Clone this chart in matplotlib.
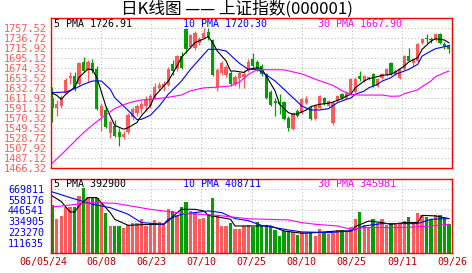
import numpy as np
import matplotlib.pyplot as plt
from matplotlib.transforms import ScaledTranslation

plt.rcParams['font.family'] = ['Noto Sans CJK SC', 'DejaVu Sans']

# ---- data ----
date_labels = ['06/05/24', '06/08', '06/23', '07/10', '07/25', '08/10', '08/25', '09/11', '09/26']

opens = [1611.9, 1591.1, 1595.3, 1622.3, 1653.5, 1657.7, 1641.0, 1686.8, 1670.2, 1684.7,
         1672.2, 1574.5, 1587.0, 1539.1, 1553.7, 1541.2, 1530.8, 1541.2, 1572.4, 1580.7,
         1589.0, 1595.3, 1595.3, 1611.9, 1632.7, 1634.8, 1639.0, 1682.6, 1672.2, 1699.3,
         1755.4, 1718.0, 1715.9, 1726.3, 1736.7, 1749.2, 1732.6, 1634.8, 1663.9, 1659.8,
         1663.9, 1641.0, 1653.5, 1655.6, 1668.1, 1693.0, 1686.8, 1678.5, 1661.8, 1624.4,
         1605.7, 1603.6, 1603.6, 1570.3, 1547.4, 1584.9, 1580.7, 1601.5, 1591.1, 1568.2,
         1591.1, 1611.9, 1595.3, 1559.9, 1605.7, 1620.2, 1611.9, 1620.2, 1624.4, 1657.7,
         1647.3, 1651.4, 1661.8, 1636.9, 1653.5, 1659.8, 1684.7, 1661.8, 1653.5, 1672.2,
         1699.3, 1684.7, 1688.9, 1726.3, 1736.7, 1734.6, 1732.6, 1745.0, 1724.2, 1722.2]
closes = [1591.1, 1599.4, 1614.0, 1649.4, 1657.7, 1632.7, 1684.7, 1668.1, 1686.8, 1668.1,
          1589.0, 1595.3, 1551.6, 1562.0, 1532.9, 1530.8, 1537.0, 1576.6, 1589.0, 1595.3,
          1599.4, 1607.8, 1616.1, 1634.8, 1639.0, 1641.0, 1672.2, 1668.1, 1699.3, 1674.3,
          1713.8, 1743.0, 1747.1, 1734.6, 1747.1, 1738.8, 1659.8, 1670.2, 1684.7, 1676.4,
          1641.0, 1655.6, 1663.9, 1661.8, 1686.8, 1678.5, 1672.2, 1661.8, 1611.9, 1597.4,
          1601.5, 1599.4, 1568.2, 1549.5, 1580.7, 1574.5, 1609.8, 1609.8, 1568.2, 1595.3,
          1616.1, 1599.4, 1605.7, 1601.5, 1616.1, 1611.9, 1622.3, 1651.4, 1651.4, 1651.4,
          1657.7, 1655.6, 1636.9, 1651.4, 1661.8, 1672.2, 1661.8, 1668.1, 1672.2, 1699.3,
          1688.9, 1693.0, 1724.2, 1734.6, 1734.6, 1732.6, 1745.0, 1726.3, 1720.1, 1713.8]
highs = [1634.8, 1607.8, 1618.2, 1653.5, 1666.0, 1666.0, 1686.8, 1697.2, 1691.0, 1693.0,
         1678.5, 1601.5, 1593.2, 1566.2, 1566.2, 1549.5, 1543.3, 1580.7, 1593.2, 1599.4,
         1605.7, 1616.1, 1620.2, 1643.1, 1645.2, 1647.3, 1676.4, 1691.0, 1701.4, 1707.6,
         1757.5, 1745.0, 1751.3, 1738.8, 1757.5, 1757.5, 1734.6, 1674.3, 1688.9, 1680.6,
         1668.1, 1659.8, 1666.0, 1670.2, 1693.0, 1705.5, 1691.0, 1682.6, 1663.9, 1628.6,
         1611.9, 1620.2, 1605.7, 1574.5, 1582.8, 1589.0, 1611.9, 1616.1, 1595.3, 1599.4,
         1618.2, 1614.0, 1607.8, 1605.7, 1618.2, 1622.3, 1624.4, 1653.5, 1655.6, 1668.1,
         1659.8, 1657.7, 1663.9, 1653.5, 1663.9, 1674.3, 1686.8, 1670.2, 1674.3, 1701.4,
         1715.9, 1695.1, 1726.3, 1736.7, 1745.0, 1738.8, 1747.1, 1747.1, 1728.4, 1724.2]
lows = [1562.0, 1574.5, 1591.1, 1620.2, 1641.0, 1626.5, 1639.0, 1666.0, 1645.2, 1663.9,
        1587.0, 1543.3, 1549.5, 1528.7, 1530.8, 1512.1, 1526.6, 1537.0, 1566.2, 1574.5,
        1580.7, 1584.9, 1591.1, 1609.8, 1628.6, 1626.5, 1636.9, 1659.8, 1668.1, 1672.2,
        1705.5, 1715.9, 1711.8, 1722.2, 1734.6, 1732.6, 1657.7, 1626.5, 1659.8, 1655.6,
        1636.9, 1636.9, 1632.7, 1632.7, 1666.0, 1672.2, 1668.1, 1657.7, 1609.8, 1595.3,
        1574.5, 1578.6, 1566.2, 1543.3, 1545.4, 1572.4, 1578.6, 1599.4, 1566.2, 1566.2,
        1589.0, 1597.4, 1593.2, 1555.8, 1603.6, 1609.8, 1609.8, 1618.2, 1622.3, 1647.3,
        1645.2, 1649.4, 1634.8, 1634.8, 1651.4, 1657.7, 1659.8, 1659.8, 1651.4, 1670.2,
        1688.9, 1678.5, 1686.8, 1724.2, 1726.3, 1726.3, 1730.5, 1724.2, 1713.8, 1705.5]
volumes = [500000, 360000, 390000, 478000, 480000, 486000, 598000, 684000, 590000, 578000,
           575000, 528000, 424000, 285000, 285000, 285000, 268000, 292000, 313000, 313000,
           362000, 285000, 320000, 348000, 327000, 320000, 466000, 442000, 400000, 483000,
           536000, 442000, 431000, 362000, 372000, 410000, 577000, 396000, 285000, 285000,
           320000, 257000, 250000, 285000, 292000, 278000, 327000, 292000, 292000, 285000,
           243000, 181000, 233000, 222000, 222000, 188000, 222000, 215000, 222000, 181000,
           257000, 215000, 198000, 215000, 243000, 243000, 233000, 278000, 355000, 431000,
           292000, 278000, 362000, 320000, 355000, 292000, 320000, 306000, 320000, 341000,
           383000, 320000, 424000, 396000, 383000, 355000, 396000, 396000, 362000, 303000]

# moving average lines (day index, value)
pma5_idx = [0, 1, 2, 3, 5, 6, 8, 9, 10, 11, 12, 13, 14, 16, 17, 19, 20, 22, 23, 26, 28, 29, 31,
            32, 34, 35, 36, 37, 39, 40, 41, 43, 44, 46, 47, 48, 50, 51, 53, 54, 55, 57, 58, 60,
            62, 63, 65, 66, 67, 68, 70, 71, 73, 74, 76, 77, 79, 80, 82, 83, 85, 86, 88, 89]
pma5 = [1621.7, 1617.5, 1609.0, 1619.6, 1634.0, 1655.0, 1672.0, 1671.0, 1654.0, 1625.0, 1595.0,
        1574.5, 1555.0, 1547.0, 1550.0, 1561.0, 1575.0, 1596.0, 1616.0, 1647.0, 1678.5, 1697.0,
        1716.6, 1727.0, 1735.0, 1739.5, 1727.0, 1710.0, 1689.0, 1668.0, 1668.0, 1665.0, 1671.5,
        1675.0, 1673.0, 1657.7, 1626.5, 1598.8, 1581.4, 1578.0, 1579.0, 1587.0, 1594.0, 1598.8,
        1601.0, 1603.6, 1610.6, 1616.0, 1619.6, 1633.4, 1647.3, 1652.0, 1656.3, 1659.0, 1661.0,
        1666.0, 1678.5, 1686.8, 1695.8, 1713.2, 1730.5, 1735.3, 1732.5, 1726.9]
pma10_idx = [0, 3, 5, 7, 9, 11, 13, 14, 17, 19, 20, 22, 24, 26, 29, 31, 33, 35, 37, 39, 41, 42,
             44, 46, 47, 50, 52, 54, 56, 58, 60, 62, 64, 66, 67, 68, 70, 71, 73, 74, 76, 77, 79,
             80, 82, 83, 85, 86, 88, 89]
pma10 = [1623.0, 1624.4, 1631.3, 1640.4, 1647.3, 1647.3, 1630.0, 1612.6, 1586.0, 1567.0, 1567.6,
         1576.0, 1595.3, 1619.6, 1647.3, 1671.5, 1692.3, 1713.2, 1713.2, 1709.7, 1692.3, 1684.0,
         1671.5, 1671.5, 1666.0, 1647.3, 1630.0, 1612.6, 1595.3, 1587.0, 1587.0, 1589.8, 1602.2,
         1609.2, 1612.0, 1619.6, 1626.5, 1633.0, 1640.4, 1647.0, 1654.2, 1661.0, 1668.1, 1671.5,
         1682.0, 1699.3, 1709.7, 1714.5, 1718.7, 1720.3]
pma30_idx = [0, 3, 6, 8, 10, 12, 14, 16, 18, 20, 22, 26, 29, 31, 34, 37, 40, 42, 44, 46, 52, 56,
             59, 63, 65, 67, 69, 74, 76, 78, 79, 82, 83, 85, 86, 88, 89]
pma30 = [1476.7, 1503.0, 1531.0, 1548.0, 1563.0, 1577.0, 1590.0, 1598.0, 1604.0, 1607.8, 1609.0,
         1613.4, 1618.2, 1627.0, 1633.0, 1634.5, 1637.0, 1645.0, 1661.0, 1671.0, 1670.5, 1662.0,
         1651.0, 1638.0, 1627.0, 1619.6, 1618.0, 1618.0, 1615.5, 1616.0, 1621.0, 1629.0, 1636.0,
         1647.3, 1656.3, 1664.6, 1667.9]

vma5_idx = [0, 2, 4, 5, 6, 8, 10, 11, 13, 14, 17, 21, 25, 26, 28, 29, 32, 34, 35, 38, 40, 41,
            44, 49, 52, 56, 59, 64, 67, 68, 71, 74, 76, 79, 82, 83, 86, 89]
vma5 = [598000, 540000, 431000, 431000, 496000, 581000, 581000, 528000, 424000, 355000, 292000,
        300000, 303000, 337000, 424000, 459000, 459000, 441000, 396000, 372000, 355000, 285000,
        285000, 285000, 233000, 209000, 216000, 233000, 233000, 278000, 337000, 320000, 303000,
        320000, 320000, 396000, 390000, 362000]
vma10_idx = [0, 4, 7, 9, 13, 17, 20, 25, 26, 29, 35, 38, 41, 44, 47, 50, 53, 56, 62, 67, 70, 74,
             82, 85, 89]
vma10 = [640000, 581000, 540000, 511000, 476000, 407000, 320000, 303000, 355000, 407000, 442000,
         424000, 362000, 340000, 290000, 268000, 243000, 223000, 216000, 233000, 285000, 310000,
         310000, 355000, 362000]
vma30_idx = [0, 9, 14, 22, 29, 37, 44, 48, 53, 56, 59, 64, 67, 70, 79, 85, 89]
vma30 = [483000, 529000, 522000, 459000, 417000, 396000, 360000, 355000, 348000, 320000, 303000,
         285000, 250000, 268000, 268000, 285000, 303000]

price_ticks = [1466.32, 1487.12, 1507.92, 1528.72, 1549.52, 1570.32, 1591.12, 1611.92,
               1632.72, 1653.52, 1674.32, 1695.12, 1715.92, 1736.72, 1757.52]
vol_ticks = [111635, 223270, 334905, 446541, 558176, 669811]

# ---- styling ----
UP = '#ff5a5a'
DOWN = '#00a000'
GRID = '#c0c0c0'
FRAME = '#ff0000'
MONO = 'DejaVu Sans Mono'

o = np.array(opens)
c = np.array(closes)
h = np.array(highs)
l = np.array(lows)
v = np.array(volumes)
x = np.arange(len(c))
cols = np.where(c >= o, UP, DOWN)

W, H = 472, 273
fig = plt.figure(figsize=(W / 100, H / 100), dpi=100, facecolor='white')
ax = fig.add_axes([51 / W, 1 - 168 / H, 401 / W, 150 / H])
axv = fig.add_axes([51 / W, 1 - 253.3 / H, 401 / W, 74.3 / H])

xmin, xmax = -0.3, 89.7
grid_x = [xmin + k * (xmax - xmin) / 8 for k in range(9)]

for a in (ax, axv):
    a.set_xlim(xmin, xmax)
    a.set_xticks(grid_x)
    a.grid(True, color=GRID, linestyle=(0, (1, 2)), linewidth=0.8, zorder=0)
    a.set_axisbelow(True)
    for side in ('top', 'right', 'bottom'):
        a.spines[side].set_color(FRAME)
        a.spines[side].set_linewidth(1.0)
    a.spines['left'].set_color(FRAME)
    a.spines['left'].set_linestyle((0, (1, 1)))
    a.spines['left'].set_linewidth(1.0)
    a.tick_params(length=0)

# candles
ax.vlines(x, l, h, colors=cols, linewidth=0.9, zorder=2)
ax.bar(x, np.maximum(np.abs(c - o), 1.0), bottom=np.minimum(o, c), width=0.72,
       color=cols, linewidth=0, zorder=3)
ax.plot(pma5_idx, pma5, color='black', lw=0.8, zorder=4)
ax.plot(pma10_idx, pma10, color='#0000ff', lw=0.8, zorder=4)
ax.plot(pma30_idx, pma30, color='#ff00ff', lw=0.8, zorder=4)

ax.set_ylim(1466.32, 1778.32)
ax.set_yticks(price_ticks)
ax.set_yticklabels([f'{t:.2f}' for t in price_ticks], fontfamily=MONO, fontsize=7.4,
                   color='#ff5a5a')
ax.tick_params(axis='y', pad=3)
ax.set_xticklabels([])

ax.text(0.008, 0.958, '5 PMA 1726.91', transform=ax.transAxes, fontfamily=MONO,
        fontsize=7.2, color='black', va='center')
ax.text(0.33, 0.958, '10 PMA 1720.30', transform=ax.transAxes, fontfamily=MONO,
        fontsize=7.2, color='#0000ff', va='center')
ax.text(0.666, 0.958, '30 PMA 1667.90', transform=ax.transAxes, fontfamily=MONO,
        fontsize=7.2, color='#ff00ff', va='center')

# volume
axv.bar(x, v, width=0.75, color=cols, linewidth=0, zorder=2)
axv.plot(vma5_idx, vma5, color='black', lw=0.8, zorder=4)
axv.plot(vma10_idx, vma10, color='#0000ff', lw=0.8, zorder=4)
axv.plot(vma30_idx, vma30, color='#ff00ff', lw=0.8, zorder=4)
axv.set_ylim(0, 775000)
axv.set_yticks(vol_ticks)
axv.set_yticklabels([str(t) for t in vol_ticks], fontfamily=MONO, fontsize=7.2,
                    color='#0000ff')
axv.tick_params(axis='y', pad=5)
axv.set_xticklabels(date_labels, fontfamily=MONO, fontsize=7.2, color='#c00000')
axv.tick_params(axis='x', pad=3)
first = axv.get_xticklabels()[0]
first.set_transform(first.get_transform() + ScaledTranslation(-0.08, 0, fig.dpi_scale_trans))

axv.text(0.008, 0.935, '5 PMA 392900', transform=axv.transAxes, fontfamily=MONO,
         fontsize=7.2, color='black', va='center')
axv.text(0.33, 0.935, '10 PMA 408711', transform=axv.transAxes, fontfamily=MONO,
         fontsize=7.2, color='#0000ff', va='center')
axv.text(0.666, 0.935, '30 PMA 345981', transform=axv.transAxes, fontfamily=MONO,
         fontsize=7.2, color='#ff00ff', va='center')

fig.text(0.502, 0.968, '日K线图 —— 上证指数(000001)', ha='center', va='center',
         fontsize=12, color='black')

fig.savefig('out.png', dpi=100, facecolor='white')
